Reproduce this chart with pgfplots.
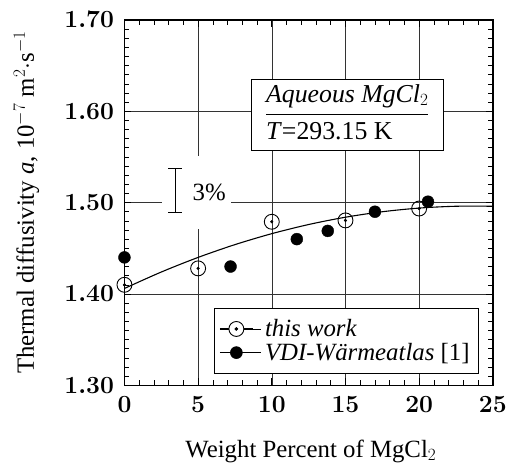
\documentclass[border=0pt]{standalone}
\usepackage{fontspec}
\setmainfont{Liberation Serif}
\usepackage{pgfplots}
\pgfplotsset{compat=1.18}
\begin{document}
\begin{tikzpicture}
\begin{axis}[
  scale only axis,
  width=370bp, height=367bp,
  xmin=0, xmax=25, ymin=1.30, ymax=1.70,
  xtick={0,5,...,25}, ytick={1.30,1.40,...,1.70},
  minor x tick num=4, minor y tick num=9,
  tick align=inside, xtick pos=both, ytick pos=both,
  major tick length=7bp, minor tick length=5bp,
  tick style={black, line width=0.6bp},
  axis line style={line width=1.4bp},
  grid=major, major grid style={black!80, line width=0.4bp},
  ticklabel style={font=\boldmath\fontsize{23}{23}\selectfont},
  yticklabel style={xshift=-7bp, /pgf/number format/.cd, fixed, precision=2, fixed zerofill},
  xticklabel style={yshift=-8bp},
  xlabel={Weight Percent of MgCl$_2$},
  ylabel={Thermal diffusivity \textit{a}, 10$^{-7}$ m$^2\cdot$s$^{-1}$},
  label style={font=\fontsize{25}{28}\selectfont},
  xlabel style={at={(axis description cs:0.506,-0.197)}, anchor=base},
  ylabel style={at={(axis description cs:-0.222,0.5)}, anchor=south},
  legend style={at={(0.962,0.033)}, anchor=south east, draw=black, line width=0.6bp,
    font=\fontsize{25}{26}\selectfont, cells={anchor=west}, inner xsep=5bp, inner ysep=10bp, row sep=3bp,
    nodes={inner ysep=1bp, inner xsep=4bp}},
  legend cell align=left,
]
% white background of the 3% label, breaking grid lines
\node[fill=white, inner sep=0pt, minimum width=69bp, minimum height=73bp] at (axis cs:4.9,1.511) {};
% curve
\addplot[black, line width=1.1bp, smooth, forget plot] coordinates {
(0,1.406) (2.5,1.424) (5,1.440) (7.5,1.454) (10,1.466) (12.5,1.476) (15,1.484) (17.5,1.490) (20,1.494) (22.5,1.496) (25,1.496)};
% this work
\addplot[only marks, mark=o, mark size=7.5bp, mark options={line width=0.9bp, fill=none},
  legend image code/.code={
    \path (0bp,0bp) -- (41bp,0bp);
    \draw[black, line width=1bp] (0bp,0bp) -- (33bp,0bp);
    \draw[black, line width=0.9bp, fill=white] (16.5bp,0bp) circle (7.5bp);
    \fill[black] (16.5bp,0bp) circle (1.5bp);
  }] coordinates {(0,1.41) (5,1.428) (10,1.479) (15,1.4805) (20,1.4935)};
\addlegendentry{\textit{this work}}
\addplot[only marks, mark=*, mark size=1.4bp, forget plot] coordinates {(0,1.41) (5,1.428) (10,1.479) (15,1.4805) (20,1.4935)};
% VDI
\addplot[only marks, mark=*, mark size=6bp, black,
  legend image code/.code={\path (0bp,0bp) -- (41bp,0bp); \fill[black] (16.5bp,0bp) circle (6bp);}] coordinates {
(0,1.44) (7.2,1.430) (11.7,1.460) (13.8,1.469) (17.0,1.490) (20.6,1.501)};
\addlegendentry{\textit{VDI-Wärmeatlas} [1]}
% 3% error bar
\addplot[black, line width=0.7bp, forget plot, mark=none] coordinates {(3.45,1.489) (3.45,1.537)};
\addplot[black, line width=0.7bp, forget plot, mark=none] coordinates {(2.98,1.537) (3.92,1.537)};
\addplot[black, line width=0.7bp, forget plot, mark=none] coordinates {(2.98,1.489) (3.92,1.489)};
\node[font=\fontsize{25}{28}\selectfont] at (axis cs:5.75,1.511) {3\%};
% box
\node[draw=black, fill=white, line width=0.7bp, minimum width=192bp, minimum height=71bp, inner sep=0pt,
  font=\fontsize{26}{30}\selectfont] at (rel axis cs:0.605,0.740)
  {\setlength{\arrayrulewidth}{0.8bp}\begin{tabular}{@{}l@{}}\textit{Aqueous MgCl$_2$}\\[3bp]\hline
   \rule{0pt}{25bp}\textit{T}=293.15 K\end{tabular}};
\end{axis}
\path[use as bounding box] ([shift={(-125bp,-75bp)}]current axis.south west) rectangle ([shift={(15bp,20bp)}]current axis.north east);
\end{tikzpicture}
\end{document}
